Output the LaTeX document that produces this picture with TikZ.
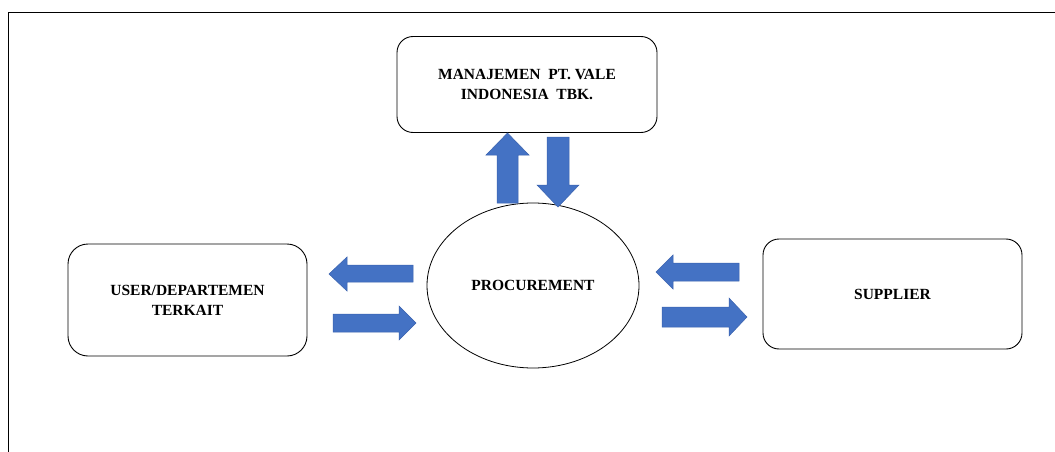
\documentclass[tikz,border=0pt]{standalone}
\usepackage{fontspec}
\setmainfont{Liberation Serif}
\usetikzlibrary{shapes.geometric}
\definecolor{arrowblue}{HTML}{4472C4}
\definecolor{arrowedge}{HTML}{3A62AE}
\tikzset{
  box/.style={draw=black, line width=0.9pt, rounded corners=16pt, align=center,
    font=\fontsize{15.5}{20}\selectfont\bfseries, inner sep=0pt},
  blockarrow/.style={fill=arrowblue, draw=arrowedge, line width=0.5pt, line join=miter},
  frame/.style={draw=black, line width=1.8pt}
}
\begin{document}
\begin{tikzpicture}[x=1pt, y=-1pt]
\useasboundingbox (0,0) rectangle (1055,452);
% frame
\draw[frame] (8.5,452) -- (8.5,12.5) -- (1055,12.5);
% nodes
\node[box, minimum width=260pt, minimum height=96pt] (mgmt) at (527,84.5) {MANAJEMEN\ \ PT. VALE\\INDONESIA\ \ TBK.};
\node[box, rounded corners=20pt, minimum width=239pt, minimum height=112pt] (user) at (187.5,300) {USER/DEPARTEMEN\\TERKAIT};
\node[box, minimum width=259pt, minimum height=110pt] (supp) at (892.5,294) {SUPPLIER};
\node[draw=black, line width=0.8pt, ellipse, minimum width=212pt, minimum height=165pt, inner sep=0pt,
  font=\fontsize{15.5}{20}\selectfont\bfseries] (proc) at (533,285.5) {PROCUREMENT};
% block arrows
% up (procurement -> management)
\path[blockarrow] (497,203) -- (497,155) -- (486,155) -- (507.5,133) -- (529,155) -- (518,155) -- (518,203) -- cycle;
% down (management -> procurement)
\path[blockarrow] (547,137) -- (569,137) -- (569,185) -- (579,185) -- (558,207) -- (537,185) -- (547,185) -- cycle;
% left upper (procurement -> user)
\path[blockarrow] (413,265) -- (347,265) -- (347,257) -- (329,274) -- (347,291) -- (347,282) -- (413,282) -- cycle;
% left lower (user -> procurement)
\path[blockarrow] (333,314) -- (399,314) -- (399,306) -- (416,323) -- (399,340) -- (399,332) -- (333,332) -- cycle;
% right upper (supplier -> procurement)
\path[blockarrow] (739,263) -- (673,263) -- (673,255) -- (656,272) -- (673,289) -- (673,281) -- (739,281) -- cycle;
% right lower (procurement -> supplier)
\path[blockarrow] (662,307) -- (729,307) -- (729,298) -- (747,317) -- (729,336) -- (729,327) -- (662,327) -- cycle;
\end{tikzpicture}
\end{document}
